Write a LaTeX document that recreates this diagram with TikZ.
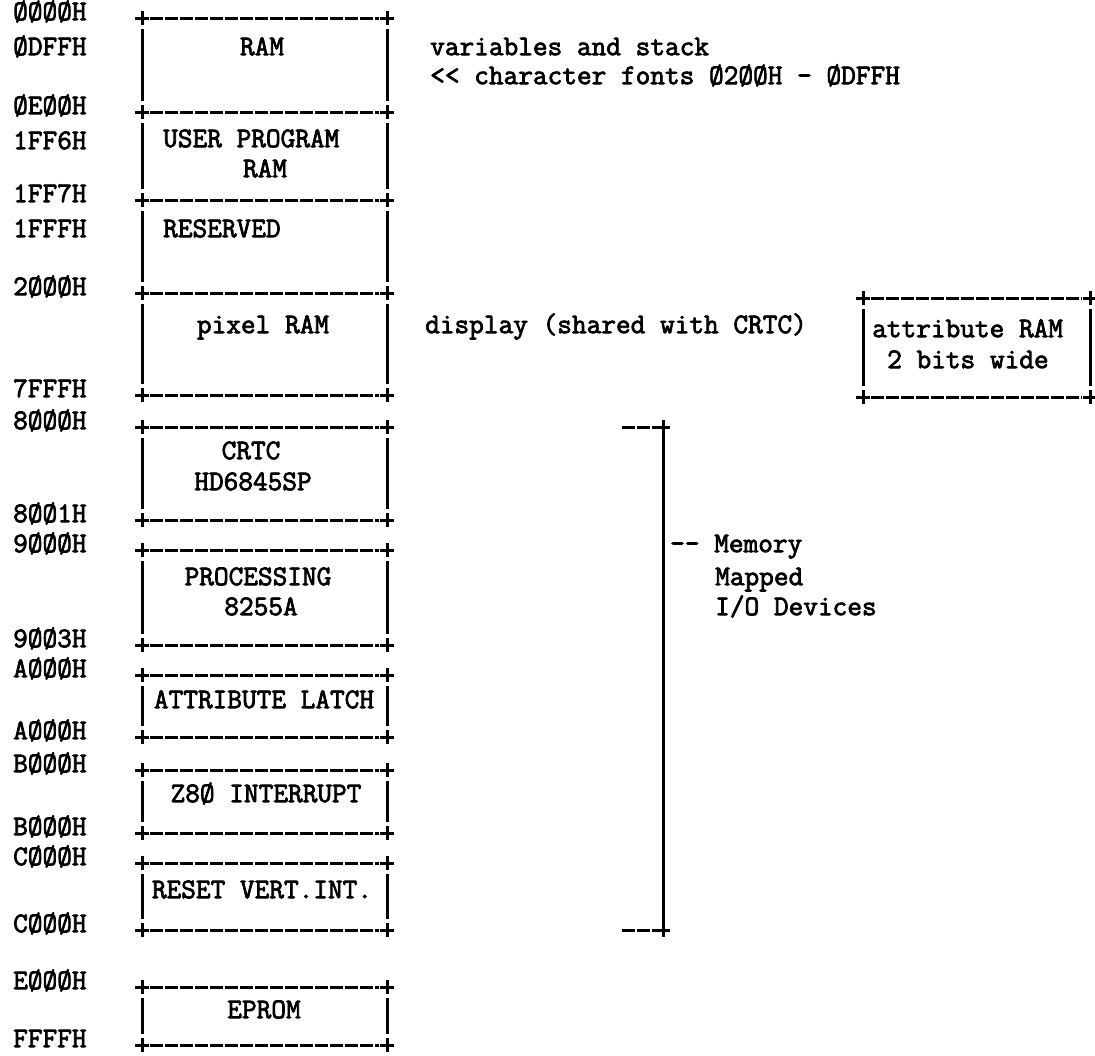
\documentclass[tikz,border=0pt]{standalone}
\usepackage{fontspec}
\newfontfamily\tw[FakeBold=2.6]{Latin Modern Mono}
\tikzset{
  lbl/.style={font=\tw\fontsize{28.5}{32}\selectfont, inner sep=0pt, anchor=mid west},
  ctxt/.style={font=\tw\fontsize{28.5}{32}\selectfont, inner sep=0pt, anchor=mid},
  dline/.style={line width=3pt, dash pattern=on 13pt off 2pt},
  sline/.style={line width=3pt},
  pmark/.style={line width=3pt},
}
\newcommand\plusat[2]{\draw[pmark] (#1-7,#2) -- (#1+7,#2) (#1,#2-7) -- (#1,#2+7);}
\newcommand\membox[4]{%
  \draw[dline] (#1+8,#3) -- (#2-8,#3);
  \draw[dline] (#1+8,#4) -- (#2-8,#4);
  \plusat{#1}{#3}\plusat{#2}{#3}\plusat{#1}{#4}\plusat{#2}{#4}
  \draw[sline] (#1,#3+11) -- (#1,#4-11);
  \draw[sline] (#2,#3+11) -- (#2,#4-11);
}
\begin{document}
\begin{tikzpicture}[x=1pt,y=-1pt]
\useasboundingbox (0,0) rectangle (1095,1055);
% address labels
\node[lbl] (a1) at (13,18) {ØØØØH};
\node[lbl] (a2) at (13,53) {ØDFFH};
\node[lbl] (a3) at (13,112) {ØEØØH};
\node[lbl] (a4) at (13,147) {1FF6H};
\node[lbl] (a5) at (13,200) {1FF7H};
\node[lbl] (a6) at (13,235) {1FFFH};
\node[lbl] (a7) at (13,293) {2ØØØH};
\node[lbl] (a8) at (13,395) {7FFFH};
\node[lbl] (a9) at (13,427) {8ØØØH};
\node[lbl] (a10) at (13,520) {8ØØ1H};
\node[lbl] (a11) at (13,550) {9ØØØH};
\node[lbl] (a12) at (13,645) {9ØØ3H};
\node[lbl] (a13) at (13,675) {AØØØH};
\node[lbl] (a14) at (13,737) {AØØØH};
\node[lbl] (a15) at (13,770) {BØØØH};
\node[lbl] (a16) at (13,833) {BØØØH};
\node[lbl] (a17) at (13,863) {CØØØH};
\node[lbl] (a18) at (13,930) {CØØØH};
\node[lbl] (a19) at (13,987) {EØØØH};
\node[lbl] (a20) at (13,1045) {FFFFH};
% boxes
\membox{142}{387}{18}{112}
\membox{142}{387}{112}{200}
\membox{142}{387}{200}{293}
\membox{142}{387}{293}{395}
\membox{142}{387}{427}{520}
\membox{142}{387}{550}{645}
\membox{142}{387}{675}{737}
\membox{142}{387}{770}{833}
\membox{142}{387}{863}{930}
\membox{142}{387}{987}{1045}
% box texts
\node[ctxt] (t1) at (262,53) {RAM};
\node[lbl] (t2) at (163,145) {USER PROGRAM};
\node[ctxt] (t3) at (265,175) {RAM};
\node[lbl] (t4) at (163,235) {RESERVED};
\node[ctxt] (t5) at (263,331) {pixel RAM};
\node[ctxt] (t6) at (251,457) {CRTC};
\node[ctxt] (t7) at (253,488) {HD6845SP};
\node[ctxt] (t8) at (258,583) {PROCESSING};
\node[ctxt] (t9) at (261,613) {8255A};
\node[ctxt] (t10) at (264,706) {ATTRIBUTE LATCH};
\node[ctxt] (t11) at (266,800) {Z8Ø INTERRUPT};
\node[ctxt] (t12) at (262,896) {RESET VERT.INT.};
\node[ctxt] (t13) at (264,1016) {EPROM};
% right-hand notes
\node[lbl] (n1) at (430,53) {variables and stack};
\node[lbl] (n2) at (430,82) {<{}< character fonts Ø2ØØH - ØDFFH};
\node[lbl] (n3) at (425,331) {display (shared with CRTC)};
% attribute RAM box
\membox{863}{1090}{298}{397}
\node[lbl] (n4) at (872,335) {attribute RAM};
\node[lbl] (n5) at (887,366) {2 bits wide};
% memory mapped bracket
\draw[dline] (622,427) -- (656,427);
\draw[dline] (622,930) -- (656,930);
\plusat{663}{427}
\plusat{663}{930}
\draw[sline] (663,434) -- (663,923);
\node[lbl] (n6) at (670,550) {-{}- Memory};
\node[lbl] (n7) at (715,583) {Mapped};
\node[lbl] (n8) at (715,613) {I/O Devices};
\end{tikzpicture}
\end{document}
